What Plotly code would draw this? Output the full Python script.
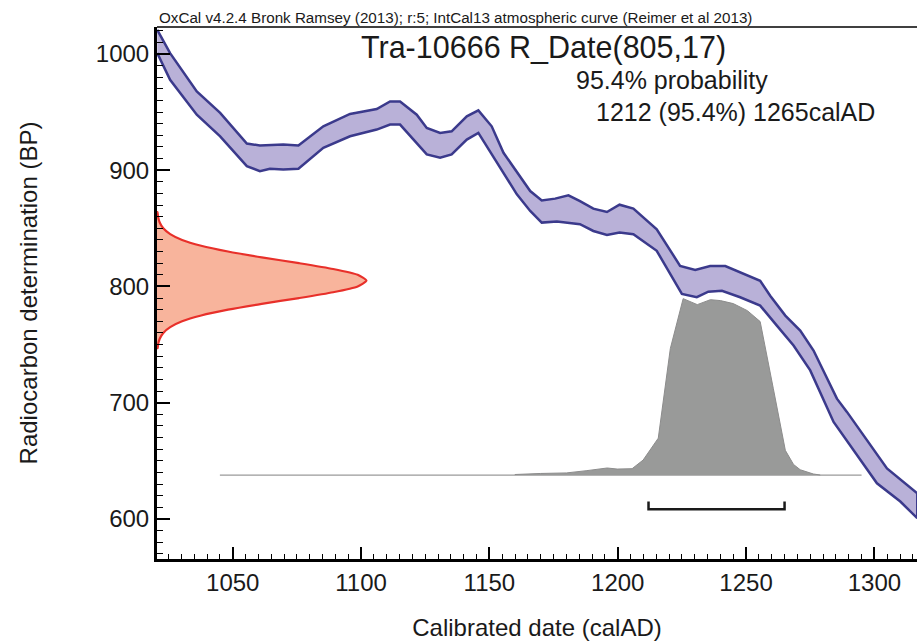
import plotly.graph_objects as go

# ---- calibration curve (IntCal13 band) ----
upper_year = [1020.6, 1025.6, 1036.0, 1045.1, 1055.5, 1060.6, 1069.7, 1075.6, 1085.3, 1095.7,
              1106.1, 1111.3, 1115.2, 1121.7, 1125.6, 1130.8, 1135.3, 1141.2, 1145.7, 1150.9,
              1155.5, 1160.0, 1165.9, 1170.4, 1175.6, 1180.8, 1185.3, 1190.5, 1195.8, 1200.7,
              1206.1, 1215.2, 1224.3, 1230.2, 1236.0, 1241.9, 1249.7, 1255.5, 1259.4, 1265.3,
              1271.1, 1276.3, 1285.4, 1289.3, 1304.9, 1316.7]
upper_bp = [1020.6, 1000.6, 967.7, 949.2, 922.9, 921.2, 922.0, 921.2, 937.7, 948.3,
            952.6, 959.1, 959.1, 947.7, 936.3, 932.0, 933.4, 946.3, 951.4, 937.7,
            914.9, 900.6, 882.0, 874.0, 875.5, 878.3, 873.4, 866.9, 864.0, 870.3,
            866.9, 849.2, 817.7, 814.1, 817.5, 817.5, 810.6, 804.9, 792.0, 774.9,
            762.0, 744.9, 703.5, 692.1, 643.5, 622.1]
lower_year = [1020.6, 1025.6, 1036.0, 1045.1, 1055.5, 1060.6, 1064.5, 1069.7, 1075.6, 1085.3,
              1095.7, 1106.1, 1111.3, 1115.2, 1125.6, 1130.8, 1135.3, 1141.2, 1145.7, 1155.5,
              1160.7, 1165.9, 1170.4, 1176.3, 1185.3, 1190.5, 1195.8, 1200.7, 1206.1, 1215.2,
              1225.0, 1230.8, 1235.3, 1240.6, 1247.7, 1255.5, 1262.0, 1268.5, 1275.0, 1284.1,
              1286.7, 1301.0, 1310.1, 1316.7]
lower_bp = [1000.6, 977.7, 947.7, 929.1, 903.4, 899.1, 901.2, 900.6, 901.2, 919.2,
            929.1, 934.9, 939.2, 939.2, 913.5, 910.6, 913.5, 926.3, 932.0, 897.8,
            879.2, 864.9, 854.9, 855.8, 853.5, 847.7, 844.3, 846.4, 844.9, 830.6,
            793.5, 790.7, 795.5, 796.3, 790.7, 783.5, 766.3, 749.2, 727.8, 683.5,
            676.3, 630.7, 615.0, 600.7]

# ---- radiocarbon measurement R_Date(805,17): relative density vs BP ----
rc_bp = [747, 750, 755, 760, 765, 770, 775, 780, 785, 790, 795, 800, 805,
         810, 815, 820, 825, 830, 835, 840, 845, 850, 855, 860, 864]
rc_dens = [0.003, 0.005, 0.013, 0.030, 0.063, 0.120, 0.211, 0.339, 0.500, 0.678, 0.841, 0.958, 1.000,
           0.958, 0.841, 0.678, 0.500, 0.339, 0.211, 0.120, 0.063, 0.030, 0.013, 0.005, 0.002]

# ---- calibrated probability distribution (relative) ----
cal_year = [1160.0, 1170.0, 1180.0, 1188.0, 1193.2, 1195.9, 1199.8, 1205.6, 1209.9, 1215.8,
            1220.5, 1225.5, 1231.0, 1236.1, 1240.0, 1245.0, 1250.5, 1255.5, 1260.6, 1265.3,
            1268.5, 1271.1, 1276.2, 1278.9]
cal_prob = [0.003, 0.009, 0.012, 0.025, 0.034, 0.040, 0.034, 0.036, 0.085, 0.209,
            0.717, 1.000, 0.966, 0.994, 0.989, 0.972, 0.932, 0.870, 0.492, 0.140,
            0.060, 0.030, 0.006, 0.000]
cal_span = [1045.0, 1295.0]

# 95.4% range
range_from, range_to = 1212, 1265

header = "OxCal v4.2.4 Bronk Ramsey (2013); r:5; IntCal13 atmospheric curve (Reimer et al 2013)"
title = "Tra-10666 R_Date(805,17)"
line2 = "95.4% probability"
line3 = "1212 (95.4%) 1265calAD"
x_title = "Calibrated date (calAD)"
y_title = "Radiocarbon determination (BP)"

X_RANGE = [1020.5, 1316.6]
Y_RANGE = [565.6, 1023.1]
FONT = "Liberation Sans, Arial, sans-serif"
TXT = "#1a1a1a"

fig = go.Figure()

# calibration band
band_x = upper_year + lower_year[::-1]
band_y = upper_bp + lower_bp[::-1]
fig.add_trace(go.Scatter(x=band_x, y=band_y, mode="lines", fill="toself",
                         fillcolor="#b9b1d8", line=dict(color="#3b3a8c", width=2.5),
                         hoverinfo="skip", showlegend=False))

# radiocarbon density on the y axis
peak_w = 81.6
x0 = X_RANGE[0]
rc_x = [x0] + [x0 + d * peak_w for d in rc_dens] + [x0]
rc_y = [rc_bp[0]] + rc_bp + [rc_bp[-1]]
fig.add_trace(go.Scatter(x=rc_x, y=rc_y, mode="lines", fill="toself",
                         fillcolor="#f8b49c", line=dict(color="#e8302a", width=2.2, shape="spline", smoothing=0.6),
                         hoverinfo="skip", showlegend=False))

# calibrated distribution
base = 637.8
hscale = 151.7
cx = [cal_year[0]] + cal_year + [cal_year[-1]]
cy = [base] + [base + p * hscale for p in cal_prob] + [base]
fig.add_trace(go.Scatter(x=cal_span, y=[base, base], mode="lines",
                         line=dict(color="#9a9a9a", width=1.2),
                         hoverinfo="skip", showlegend=False))
fig.add_trace(go.Scatter(x=cx, y=cy, mode="lines", fill="toself",
                         fillcolor="#999a99", line=dict(color="#8c8c8c", width=1),
                         hoverinfo="skip", showlegend=False))

# range bracket
fig.add_trace(go.Scatter(x=[range_from, range_from, range_to, range_to],
                         y=[615.0, 608.4, 608.4, 615.0], mode="lines",
                         line=dict(color="#1a1a1a", width=2.5),
                         hoverinfo="skip", showlegend=False))

axis_common = dict(showline=True, linewidth=3, linecolor="black", ticks="inside",
                   tickcolor="black", showgrid=False, zeroline=False,
                   tickfont=dict(family=FONT, size=24, color=TXT))

fig.update_xaxes(range=X_RANGE, tick0=1000, dtick=50, ticklen=12, tickwidth=2,
                 minor=dict(dtick=5, ticklen=5, tickwidth=1.3, ticks="inside", tickcolor="black"),
                 title=dict(text=x_title, font=dict(family=FONT, size=24, color=TXT), standoff=28),
                 **axis_common)
fig.update_yaxes(range=Y_RANGE, tick0=0, dtick=100, ticklen=13, tickwidth=2,
                 minor=dict(dtick=10, ticklen=6, tickwidth=1.3, ticks="inside", tickcolor="black"),
                 title=dict(text=y_title, font=dict(family=FONT, size=24, color=TXT), standoff=52),
                 **axis_common)

fig.add_shape(type="line", xref="paper", yref="paper", x0=0, x1=1, y0=1, y1=1,
              line=dict(color="black", width=1.5))

fig.add_annotation(text=header, xref="paper", yref="paper", x=0, y=1.0175,
                   xanchor="left", yanchor="middle", showarrow=False,
                   font=dict(family=FONT, size=15.2, color=TXT))
fig.add_annotation(text=title, xref="paper", yref="paper", x=0.509, y=0.9607,
                   xanchor="center", yanchor="middle", showarrow=False,
                   font=dict(family=FONT, size=30.5, color=TXT))
fig.add_annotation(text=line2, xref="paper", yref="paper", x=0.549, y=0.9007,
                   xanchor="left", yanchor="middle", showarrow=False,
                   font=dict(family=FONT, size=25, color=TXT))
fig.add_annotation(text=line3, xref="paper", yref="paper", x=0.575, y=0.8408,
                   xanchor="left", yanchor="middle", showarrow=False,
                   font=dict(family=FONT, size=25, color=TXT))

fig.update_layout(width=917, height=641, margin=dict(l=157, r=0, t=27, b=80),
                  plot_bgcolor="white", paper_bgcolor="white", showlegend=False)

fig.write_html("out.html")
